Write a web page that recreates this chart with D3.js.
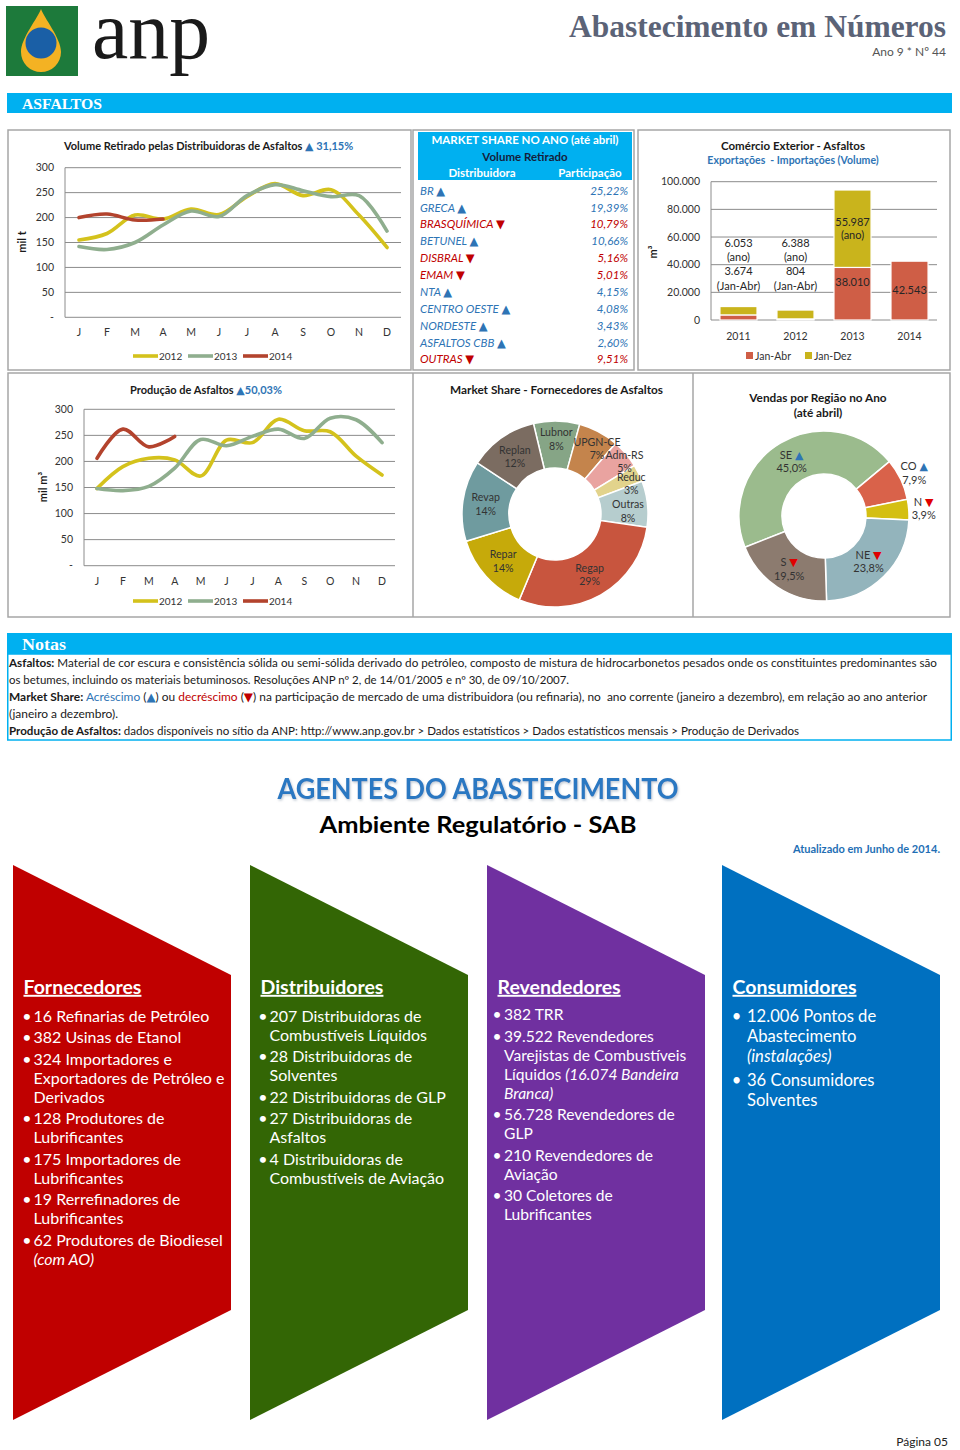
<!DOCTYPE html>
<html><head><meta charset="utf-8">
<script src="https://cdn.jsdelivr.net/npm/d3@7"></script>
<style>
html,body{margin:0;padding:0;background:#fff;}
svg{display:block;font-family:Lato,'DejaVu Sans',sans-serif;}
</style></head><body>
<svg id="page" width="960" height="1450"></svg>
<script>
// ---------------- DATA ----------------
const monthLabels = ["J","F","M","A","M","J","J","A","S","O","N","D"];
const seriesYears = ["2012","2013","2014"];
const lineTicks = [0,50,100,150,200,250,300];
const retirado2012 = [155,168,205,197,217,206,242,268,244,256,205,140];
const retirado2013 = [142,136,150,185,213,202,244,266,254,242,244,173];
const retirado2014 = [200,207,195,197];
const producao2012 = [148,190,206,203,172,241,236,281,259,257,210,174];
const producao2013 = [148,144,152,187,242,230,248,262,244,283,280,236];
const producao2014 = [206,262,228,248];

const shareNames  = ["BR","GRECA","BRASQUÍMICA","BETUNEL","DISBRAL","EMAM","NTA","CENTRO OESTE","NORDESTE","ASFALTOS CBB","OUTRAS"];
const shareValues = [25.22,19.39,10.79,10.66,5.16,5.01,4.15,4.08,3.43,2.60,9.51];
const shareTrend  = ["up","up","down","up","down","down","up","up","up","up","down"];

const comercioYears = ["2011","2012","2013","2014"];
const comercioJanAbr = [3674,804,38010,42543];
const comercioJanDez = [6053,6388,55987,0];
const comercioTicks = [0,20000,40000,60000,80000,100000];

const fornNames = ["Lubnor","UPGN-CE","Adm-RS","Reduc","Outras","Regap","Repar","Revap","Replan"];
const fornPct   = [8,7,5,3,8,29,14,14,12];

const regNames = ["SE","CO","N","NE","S"];
const regPct   = [45.0,7.9,3.9,23.8,19.5];
const regTrend = ["up","up","down","down","down"];

const fornecedoresItems = [["16 Refinarias de Petróleo"],["382 Usinas de Etanol"],["324 Importadores e","Exportadores de Petróleo e","Derivados"],["128 Produtores de","Lubrificantes"],["175 Importadores de","Lubrificantes"],["19 Rerrefinadores de","Lubrificantes"],["62 Produtores de Biodiesel","*(com AO)*"]];
const distribuidoresItems = [["207 Distribuidoras de","Combustíveis Líquidos"],["28 Distribuidoras de","Solventes"],["22 Distribuidoras de GLP"],["27 Distribuidoras de","Asfaltos"],["4 Distribuidoras de","Combustíveis de Aviação"]];
const revendedoresItems = [["382 TRR"],["39.522 Revendedores","Varejistas de Combustíveis","Líquidos *(16.074 Bandeira*","*Branca)*"],["56.728 Revendedores de","GLP"],["210 Revendedores de","Aviação"],["30 Coletores de","Lubrificantes"]];
const consumidoresItems = [["12.006 Pontos de","Abastecimento","*(instalações)*"],["36 Consumidores","Solventes"]];

// ---------------- HELPERS ----------------
const svg = d3.select("#page");
const loc = d3.formatLocale({decimal:",",thousands:".",grouping:[3],currency:["",""]});
const fmtThousands = loc.format(",");
const fmt2 = loc.format(".2f");
const fmt1 = loc.format(".1f");
const BLUE = "#2e74b5", RED = "#c00000", GRID = "#8c8c8c", BORDER = "#a6a6a6", CYAN = "#00b0f0";
const col = {"2012":"#d4c21c","2013":"#8fae8e","2014":"#b3432d"};

function txt(g, x, y, s, o = {}) {
  const t = g.append("text").attr("x", x).attr("y", y).text(s)
    .attr("font-size", o.size || 11).attr("fill", o.fill || "#262626")
    .attr("text-anchor", o.anchor || "start").attr("dy", o.dy == null ? "0.35em" : o.dy);
  if (o.weight) t.attr("font-weight", o.weight);
  if (o.italic) t.attr("font-style", "italic");
  if (o.family) t.attr("font-family", o.family);
  if (o.len) t.attr("textLength", o.len).attr("lengthAdjust", "spacingAndGlyphs");
  return t;
}

// ---------------- HEADER ----------------
svg.append("rect").attr("x",6).attr("y",6).attr("width",72).attr("height",70).attr("fill","#1d7a3b");
svg.append("path").attr("d","M41,9 C38,18 21,38 21,52 A20,20 0 0 0 61,52 C61,38 44,18 41,9 Z").attr("fill","#f4b223");
svg.append("ellipse").attr("cx",41).attr("cy",43).attr("rx",15.5).attr("ry",15.5).attr("fill","#1a5fa6");
txt(svg, 92, 58, "anp", {size:82, fill:"#1a1a1a", family:"'Liberation Serif',serif", dy:0, len:118});
txt(svg, 946, 37, "Abastecimento em Números", {size:31, weight:"bold", fill:"#5b6377", family:"'Liberation Serif',serif", anchor:"end", dy:0, len:377});
txt(svg, 946, 56, "Ano 9 * Nº 44", {size:12, fill:"#555", anchor:"end", dy:0});

svg.append("rect").attr("x",7).attr("y",93).attr("width",945).attr("height",20).attr("fill",CYAN);
txt(svg, 22, 109, "ASFALTOS", {size:15, fill:"#fff", weight:"bold", family:"'Liberation Serif',serif", dy:0, len:80});

// panel borders
function box(x,y,w,h){ svg.append("rect").attr("x",x).attr("y",y).attr("width",w).attr("height",h).attr("fill","none").attr("stroke",BORDER).attr("stroke-width",1.5); }
box(8,130,403,240); box(413,130,221,240); box(638,130,312,240);
box(8,373,942,244);
svg.append("line").attr("x1",413).attr("x2",413).attr("y1",373).attr("y2",617).attr("stroke",BORDER).attr("stroke-width",1.5);
svg.append("line").attr("x1",693).attr("x2",693).attr("y1",373).attr("y2",617).attr("stroke",BORDER).attr("stroke-width",1.5);

// ---------------- LINE CHARTS ----------------
function lineChart(cfg) {
  const g = svg.append("g");
  const x = d3.scaleBand().domain(d3.range(12)).range([cfg.x0, cfg.x1]);
  const y = d3.scaleLinear().domain([0,300]).range([cfg.yb, cfg.yt]);
  const cx = i => x(i) + x.bandwidth()/2;
  g.selectAll("line.grid").data(lineTicks).join("line")
    .attr("x1",cfg.x0).attr("x2",cfg.x1).attr("y1",d=>y(d)).attr("y2",d=>y(d))
    .attr("stroke",GRID).attr("stroke-width",1);
  g.append("line").attr("x1",cfg.x0).attr("x2",cfg.x0).attr("y1",y(0)).attr("y2",y(300)).attr("stroke",GRID);
  lineTicks.forEach(t => txt(g, cfg.labelX, y(t), t === 0 ? "-" : String(t), {size:10.5, anchor:"end", fill:"#333"}));
  monthLabels.forEach((m,i) => txt(g, cx(i), cfg.monthY, m, {size:10.5, anchor:"middle", fill:"#333"}));
  const line = d3.line().x((d,i)=>cx(i)).y(d=>y(d)).curve(d3.curveCatmullRom.alpha(0.5));
  cfg.series.forEach((s,k) => {
    g.append("path").attr("d", line(s)).attr("fill","none").attr("stroke", col[seriesYears[k]])
      .attr("stroke-width",3.6).attr("stroke-linecap","round");
  });
  seriesYears.forEach((yr,k) => {
    const lx = cfg.legendX + k*55;
    g.append("line").attr("x1",lx).attr("x2",lx+25).attr("y1",cfg.legendY).attr("y2",cfg.legendY)
      .attr("stroke",col[yr]).attr("stroke-width",3.6);
    txt(g, lx+26, cfg.legendY, yr, {size:10, fill:"#333"});
  });
  const t = txt(g, cfg.titleX, cfg.titleY, cfg.title, {size:11, weight:"bold", fill:"#1a1a1a"});
  t.append("tspan").attr("fill",BLUE).text(cfg.titleBlue);
  txt(g, 0, 0, cfg.ylabel, {size:11, weight:"bold", anchor:"middle", fill:"#1a1a1a"})
    .attr("transform", `translate(${cfg.ylabX},${cfg.ylabY}) rotate(-90)`);
}

lineChart({x0:65, x1:401, yb:317.3, yt:167.7, labelX:54, monthY:332, legendX:133, legendY:356,
  series:[retirado2012, retirado2013, retirado2014],
  title:"Volume Retirado pelas Distribuidoras de Asfaltos ", titleBlue:"▲ 31,15%", titleX:64, titleY:146,
  ylabel:"mil t", ylabX:22, ylabY:242});

lineChart({x0:84, x1:395, yb:565.7, yt:409.3, labelX:73, monthY:581, legendX:133, legendY:601,
  series:[producao2012, producao2013, producao2014],
  title:"Produção de Asfaltos ", titleBlue:"▲50,03%", titleX:130, titleY:390,
  ylabel:"mil m³", ylabX:43, ylabY:487});

// ---------------- MARKET SHARE TABLE ----------------
{
  const g = svg.append("g");
  g.append("rect").attr("x",418).attr("y",132).attr("width",214).attr("height",48).attr("fill",CYAN);
  txt(g, 525, 140, "MARKET SHARE NO ANO (até abril)", {size:11.5, weight:"bold", fill:"#fff", anchor:"middle"});
  txt(g, 525, 157, "Volume Retirado", {size:11.5, weight:"bold", fill:"#141e3c", anchor:"middle"});
  txt(g, 482, 173, "Distribuidora", {size:11.5, weight:"bold", fill:"#fff", anchor:"middle"});
  txt(g, 590, 173, "Participação", {size:11.5, weight:"bold", fill:"#fff", anchor:"middle"});
  const ry = d3.scaleBand().domain(d3.range(shareNames.length)).range([182.3, 367.8]);
  shareNames.forEach((n,i) => {
    const c = shareTrend[i] === "up" ? BLUE : RED;
    const yy = ry(i) + ry.bandwidth()/2;
    txt(g, 420, yy, n + " " + (shareTrend[i] === "up" ? "▲" : "▼"), {size:11.5, italic:true, fill:c});
    txt(g, 628, yy, fmt2(shareValues[i]) + "%", {size:11.5, italic:true, fill:c, anchor:"end"});
  });
}

// ---------------- COMÉRCIO EXTERIOR ----------------
{
  const g = svg.append("g");
  txt(g, 793, 146, "Comércio Exterior - Asfaltos", {size:11.5, weight:"bold", anchor:"middle", fill:"#1a1a1a"});
  txt(g, 793, 160.5, "Exportações  - Importações (Volume)", {size:10.5, weight:"bold", anchor:"middle", fill:BLUE}).attr("xml:space","preserve");
  const x = d3.scaleBand().domain(comercioYears).range([711,937]).paddingInner(0.35).paddingOuter(0.157);
  const y = d3.scaleLinear().domain([0,100000]).range([320,181.7]);
  g.selectAll("line.grid").data(comercioTicks).join("line").attr("x1",711).attr("x2",937)
    .attr("y1",d=>y(d)).attr("y2",d=>y(d)).attr("stroke",GRID);
  g.append("line").attr("x1",711).attr("x2",711).attr("y1",y(0)).attr("y2",y(100000)).attr("stroke",GRID);
  comercioTicks.forEach(t => txt(g, 700, y(t), fmtThousands(t), {size:10.5, anchor:"end", fill:"#333"}));
  comercioYears.forEach(yr => txt(g, x(yr)+x.bandwidth()/2, 336, yr, {size:10.5, anchor:"middle", fill:"#333"}));
  const rows = comercioYears.map((yr,i) => ({year:yr, janAbr:comercioJanAbr[i], janDez:comercioJanDez[i]}));
  const stack = d3.stack().keys(["janAbr","janDez"])(rows);
  const bcol = {janAbr:"#cf5e46", janDez:"#c9b41c"};
  stack.forEach(layer => {
    g.selectAll(null).data(layer.filter(d => d[1] > d[0])).join("rect")
      .attr("x", d => x(d.data.year)).attr("width", x.bandwidth())
      .attr("y", d => y(d[1])).attr("height", d => y(d[0]) - y(d[1]))
      .attr("fill", bcol[layer.key]).attr("stroke","#fff").attr("stroke-width",1.2);
  });
  const lc = "#262626";
  rows.forEach(r => {
    const cx = x(r.year) + x.bandwidth()/2;
    if (r.year === "2011" || r.year === "2012") {
      txt(g, cx, y(55500), fmtThousands(r.janDez), {size:11, anchor:"middle", fill:lc});
      txt(g, cx, y(45400), "(ano)", {size:11, anchor:"middle", fill:lc});
      txt(g, cx, y(35000), fmtThousands(r.janAbr), {size:11, anchor:"middle", fill:lc});
      txt(g, cx, y(24700), "(Jan-Abr)", {size:11, anchor:"middle", fill:lc});
    } else {
      if (r.janDez > 0) {
        const mid = r.janAbr + r.janDez/2;
        txt(g, cx, y(mid)-6.5, fmtThousands(r.janDez), {size:11, anchor:"middle", fill:lc});
        txt(g, cx, y(mid)+6.5, "(ano)", {size:11, anchor:"middle", fill:lc});
        txt(g, cx, y(r.janAbr*0.72), fmtThousands(r.janAbr), {size:11, anchor:"middle", fill:lc});
      } else {
        txt(g, cx, y(r.janAbr/2), fmtThousands(r.janAbr), {size:11, anchor:"middle", fill:lc});
      }
    }
  });
  [["Jan-Abr","janAbr",746],["Jan-Dez","janDez",805]].forEach(([lab,k,lx]) => {
    g.append("rect").attr("x",lx).attr("y",352).attr("width",7).attr("height",7).attr("fill",bcol[k]);
    txt(g, lx+9, 356, lab, {size:10.5, fill:"#333"});
  });
  txt(g, 0, 0, "m³", {size:11, weight:"bold", anchor:"middle", fill:"#1a1a1a"})
    .attr("transform","translate(653,252) rotate(-90)");
}

// ---------------- DONUT: FORNECEDORES ----------------
{
  const g = svg.append("g");
  txt(g, 450, 390, "Market Share - Fornecedores de Asfaltos", {size:11.8, weight:"bold", fill:"#1a1a1a"});
  const cx = 555, cy = 514, R = 93, r = 46;
  const fcol = ["#86a586","#c4844c","#e9a3a0","#e2d38c","#b6cdce","#c8553e","#c6aa0a","#6f9b9f","#7b6c61"];
  const labelR = [75,78,87,82,73,70,70,70,70];
  const labelShift = [0,4.6,3.4,4.5,4,0,0,0,0];
  const start = -13.4 * Math.PI/180;
  const pie = d3.pie().sort(null).value(d=>d).startAngle(start).endAngle(start + 2*Math.PI);
  const arcs = pie(fornPct);
  const arc = d3.arc().innerRadius(r).outerRadius(R);
  const gg = g.append("g").attr("transform",`translate(${cx},${cy})`);
  gg.selectAll("path").data(arcs).join("path").attr("d",arc)
    .attr("fill",(d,i)=>fcol[i]).attr("stroke","#fff").attr("stroke-width",1.5);
  arcs.forEach((a,i) => {
    const ang = (a.startAngle + a.endAngle)/2 + labelShift[i]*Math.PI/180;
    const lx = labelR[i]*Math.sin(ang), ly = -labelR[i]*Math.cos(ang);
    txt(gg, lx, ly-6.5, fornNames[i], {size:10.6, anchor:"middle", fill:"#333"});
    txt(gg, lx, ly+6.8, fornPct[i] + "%", {size:10.6, anchor:"middle", fill:"#333"});
  });
}

// ---------------- DONUT: REGIÕES ----------------
{
  const g = svg.append("g");
  txt(g, 818, 398, "Vendas por Região no Ano", {size:11.8, weight:"bold", anchor:"middle", fill:"#1a1a1a"});
  txt(g, 818, 413, "(até abril)", {size:11.8, weight:"bold", anchor:"middle", fill:"#1a1a1a"});
  const cx = 824, cy = 516, R = 85, r = 42;
  const rcol = ["#9bbb8d","#d9624a","#d4bf12","#93b4bc","#8c7b6f"];
  const start = -111.6 * Math.PI/180;
  const pie = d3.pie().sort(null).value(d=>d).startAngle(start).endAngle(start + 2*Math.PI);
  const arcs = pie(regPct);
  const gg = g.append("g").attr("transform",`translate(${cx},${cy})`);
  gg.selectAll("path").data(arcs).join("path").attr("d", d3.arc().innerRadius(r).outerRadius(R))
    .attr("fill",(d,i)=>rcol[i]).attr("stroke","#fff").attr("stroke-width",1.5);
  arcs.forEach((a,i) => {
    const lr = regPct[i] < 10 ? 100 : (r+R)/2;
    const [lx,ly] = d3.arc().innerRadius(lr).outerRadius(lr).centroid(a);
    const up = regTrend[i] === "up";
    const t = txt(gg, lx, ly-6.5, regNames[i] + " ", {size:11, anchor:"middle", fill:"#333"});
    t.append("tspan").attr("fill", up ? BLUE : "#e00000").text(up ? "▲" : "▼");
    txt(gg, lx, ly+7, fmt1(regPct[i]) + "%", {size:11, anchor:"middle", fill:"#333"});
  });
}

// ---------------- NOTAS ----------------
{
  const g = svg.append("g");
  g.append("rect").attr("x",7).attr("y",633).attr("width",945).attr("height",21).attr("fill",CYAN);
  g.append("rect").attr("x",7.75).attr("y",654).attr("width",943.5).attr("height",86).attr("fill","none").attr("stroke",CYAN).attr("stroke-width",1.5);
  txt(g, 22, 650, "Notas", {size:17, weight:"bold", fill:"#fff", family:"'Liberation Serif',serif", dy:0, len:44});
  const lines = [
    {y:663, len:928, parts:[["Asfaltos:","b"],[" Material de cor escura e consistência sólida ou semi-sólida derivado do petróleo, composto de mistura de hidrocarbonetos pesados onde os constituintes predominantes são",""]]},
    {y:680, len:560, parts:[["os betumes, incluindo os materiais betuminosos. Resoluções ANP nº 2, de 14/01/2005 e nº 30, de 09/10/2007.",""]]},
    {y:697, len:918, parts:[["Market Share:","b"],[" ",""],["Acréscimo","blue"],[" (",""],["▲","blue"],[") ou ",""],["decréscimo","red"],[" (",""],["▼","red"],[") na participação de mercado de uma distribuidora (ou refinaria), no  ano corrente (janeiro a dezembro), em relação ao ano anterior",""]]},
    {y:714, len:109, parts:[["(janeiro a dezembro).",""]]},
    {y:731, len:790, parts:[["Produção de Asfaltos:","b"],[" dados disponíveis no sítio da ANP: http://www.anp.gov.br > Dados estatísticos > Dados estatísticos mensais > Produção de Derivados",""]]}
  ];
  lines.forEach(L => {
    const t = g.append("text").attr("x",9).attr("y",L.y).attr("dy","0.35em").attr("font-size",11.6).attr("fill","#1a1a1a")
      .attr("textLength",L.len).attr("lengthAdjust","spacingAndGlyphs").attr("xml:space","preserve");
    L.parts.forEach(([s,k]) => {
      const ts = t.append("tspan").text(s);
      if (k === "b") ts.attr("font-weight","bold");
      if (k === "blue") ts.attr("fill",BLUE);
      if (k === "red") ts.attr("fill",RED);
    });
  });
}

// ---------------- AGENTES ----------------
{
  const defs = svg.append("defs");
  const f = defs.append("filter").attr("id","glow").attr("x","-5%").attr("y","-20%").attr("width","110%").attr("height","140%");
  f.append("feDropShadow").attr("dx",1).attr("dy",1.5).attr("stdDeviation",1.2).attr("flood-color","#9aa8b8").attr("flood-opacity",0.6);
  txt(svg, 478, 789, "AGENTES DO ABASTECIMENTO", {size:28, weight:"bold", fill:"#2a78c2", anchor:"middle", len:401}).attr("filter","url(#glow)");
  txt(svg, 478, 825, "Ambiente Regulatório - SAB", {size:23, weight:"bold", fill:"#000", anchor:"middle", len:317});
  txt(svg, 940, 849, "Atualizado em Junho de 2014.", {size:11, weight:"bold", fill:"#1f6fb5", anchor:"end"});

  const panels = [
    {x:13, color:"#c00000", title:"Fornecedores", items:fornecedoresItems, bx:27, tx:33.5, size:16, step:19, gap:21.5, y0:1016},
    {x:250, color:"#336605", title:"Distribuidores", items:distribuidoresItems, bx:263, tx:269.5, size:16, step:19, gap:21.5, y0:1016},
    {x:487, color:"#7030a0", title:"Revendedores", items:revendedoresItems, bx:497, tx:504, size:15.6, step:19, gap:21.5, y0:1015},
    {x:722, color:"#0070c0", title:"Consumidores", items:consumidoresItems, bx:736.5, tx:747, size:16.6, step:20, gap:23.3, y0:1016.5}
  ];
  panels.forEach(p => {
    const w = 218;
    svg.append("path").attr("d", d3.line()([[p.x,865],[p.x+w,975],[p.x+w,1310],[p.x,1420]]) + "Z").attr("fill",p.color);
    txt(svg, p.x+10.5, 987, p.title, {size:19.5, weight:"bold", fill:"#fff"}).attr("text-decoration","underline");
    let yy = p.y0;
    p.items.forEach((item,bi) => {
      if (bi > 0) yy += p.gap - p.step;
      txt(svg, p.bx, yy, "•", {size:p.size, fill:"#fff", anchor:"middle"});
      item.forEach(line => {
        const t = svg.append("text").attr("x",p.tx).attr("y",yy).attr("dy","0.35em").attr("font-size",p.size).attr("fill","#fff").attr("xml:space","preserve");
        line.split("*").forEach((seg,si) => { if (seg) { const ts = t.append("tspan").text(seg); if (si % 2 === 1) ts.attr("font-style","italic"); } });
        yy += p.step;
      });
    });
  });
}

txt(svg, 948, 1442, "Página 05", {size:12, fill:"#222", anchor:"end"});
</script>
</body></html>
